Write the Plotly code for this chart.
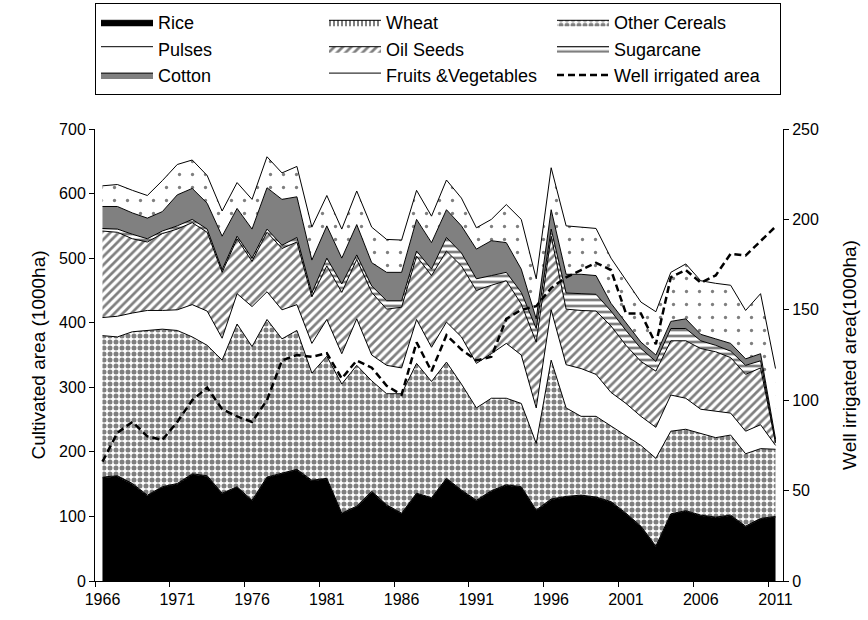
import plotly.graph_objects as go

years = list(range(1966, 2012))

# Cultivated area by crop (1000 ha)
rice = [160, 162, 150, 132, 145, 150, 165, 162, 135, 145,
        124, 160, 166, 172, 155, 158, 104, 115, 138, 117,
        104, 135, 128, 158, 140, 124, 139, 148, 145, 109,
        126, 130, 132, 129, 122, 104, 84, 53, 103, 108,
        101, 98, 101, 84, 96, 99]
wheat = [1, 1, 1, 1, 1, 1, 1, 1, 1, 1,
         1, 1, 1, 1, 1, 1, 1, 1, 1, 1,
         1, 1, 1, 1, 1, 1, 1, 1, 1, 1,
         1, 1, 1, 1, 1, 1, 1, 1, 1, 1,
         1, 1, 1, 1, 1, 1]
other_cereals = [219, 215, 235, 255, 244, 237, 212, 202, 206, 252,
                 238, 244, 208, 215, 166, 189, 200, 218, 171, 172,
                 185, 201, 180, 180, 164, 143, 143, 134, 129, 103,
                 215, 137, 122, 125, 117, 120, 125, 136, 128, 126,
                 126, 123, 124, 112, 108, 104]
pulses = [28, 32, 29, 31, 29, 32, 50, 53, 34, 47,
          62, 43, 45, 40, 46, 57, 47, 72, 40, 44,
          40, 68, 53, 62, 73, 69, 69, 85, 75, 55,
          78, 67, 74, 65, 52, 50, 45, 48, 56, 48,
          38, 41, 34, 35, 37, 6]
oil_seeds = [134, 130, 115, 106, 119, 125, 127, 122, 102, 85,
             70, 92, 95, 97, 72, 83, 95, 92, 97, 87,
             94, 98, 111, 110, 110, 113, 106, 97, 79, 102,
             114, 86, 90, 98, 103, 90, 85, 87, 84, 89,
             94, 92, 86, 88, 88, 4]
sugarcane = [4, 5, 7, 5, 4, 5, 5, 5, 4, 4,
             5, 5, 5, 7, 6, 12, 13, 7, 10, 13,
             10, 8, 10, 21, 20, 18, 15, 13, 18, 21,
             11, 25, 26, 26, 23, 23, 20, 15, 19, 19,
             12, 10, 10, 14, 11, 2]
cotton = [34, 35, 33, 32, 30, 48, 48, 40, 52, 43,
          45, 64, 71, 63, 51, 50, 40, 47, 36, 44,
          44, 49, 41, 43, 42, 46, 54, 46, 36, 15,
          30, 29, 30, 29, 12, 12, 10, 10, 11, 15,
          10, 10, 12, 10, 11, 4]
fruits_veg = [32, 34, 35, 35, 48, 47, 44, 43, 39, 40,
              46, 48, 41, 47, 51, 47, 45, 52, 55, 51,
              50, 45, 41, 46, 43, 33, 33, 59, 77, 62,
              65, 75, 73, 73, 70, 65, 62, 67, 76, 85,
              83, 86, 90, 75, 93, 109]

# Well irrigated area (1000 ha), right axis
well = [66, 82, 88, 80, 78, 88, 100, 107, 95, 91,
        88, 100, 122, 125, 124, 126, 112, 122, 118, 108,
        103, 132, 116, 136, 128, 122, 124, 145, 150, 152,
        162, 168, 172, 176, 172, 148, 148, 131, 168, 172,
        165, 169, 181, 180, 188, 196]

year_labels = [1966, 1971, 1976, 1981, 1986, 1991, 1996, 2001, 2006, 2011]
year_bounds = [1965.5, 1970.5, 1975.5, 1980.5, 1985.5, 1990.5,
               1995.5, 2000.5, 2005.5, 2010.5]

FONT = "Arial, Liberation Sans, sans-serif"

layers = [
    ("Rice", rice, dict(fillcolor="black")),
    ("Wheat", wheat, dict(fillpattern=dict(shape="|", fgcolor="black", bgcolor="white",
                                           size=4, solidity=0.5))),
    ("Other Cereals", other_cereals, dict(fillpattern=dict(shape=".", fgcolor="black",
                                                           bgcolor="white", size=6,
                                                           solidity=0.55))),
    ("Pulses", pulses, dict(fillcolor="white")),
    ("Oil Seeds", oil_seeds, dict(fillpattern=dict(shape="/", fgcolor="black",
                                                   bgcolor="white", size=6,
                                                   solidity=0.45))),
    ("Sugarcane", sugarcane, dict(fillpattern=dict(shape="-", fgcolor="black",
                                                   bgcolor="white", size=6,
                                                   solidity=0.45))),
    ("Cotton", cotton, dict(fillcolor="#808080")),
    ("Fruits &Vegetables", fruits_veg, dict(fillpattern=dict(shape=".", fgcolor="black",
                                                            bgcolor="white", size=13,
                                                            solidity=0.05))),
]

fig = go.Figure()
for name, vals, style in layers:
    fig.add_trace(go.Scatter(
        x=years, y=vals, name=name, mode="lines", stackgroup="crops",
        line=dict(color="black", width=1),
        **style,
    ))

fig.add_trace(go.Scatter(
    x=years, y=well, name="Well irrigated area", mode="lines", yaxis="y2",
    line=dict(color="black", width=2.5, dash="7px,4px"),
))

fig.update_layout(
    width=868, height=620,
    margin=dict(l=95, r=85, t=129, b=36),
    paper_bgcolor="white", plot_bgcolor="white",
    font=dict(family=FONT, size=16, color="black"),
    showlegend=True,
    legend=dict(
        orientation="h", traceorder="normal",
        x=0, xanchor="left", yref="container", y=0.995, yanchor="top",
        bordercolor="black", borderwidth=1, bgcolor="white",
        font=dict(family=FONT, size=18),
        itemwidth=52, entrywidth=161, entrywidthmode="pixels",
    ),
    xaxis=dict(
        range=[1965.5, 2011.5], showgrid=False, zeroline=False,
        showline=True, linecolor="black", linewidth=1,
        tickmode="array", tickvals=year_labels, ticks="",
        ticklabelstandoff=4, tickfont=dict(size=16),
        minor=dict(tickmode="array", tickvals=year_bounds, ticks="outside",
                   ticklen=5, tickcolor="black", showgrid=False),
    ),
    yaxis=dict(
        range=[0, 700], dtick=100, showgrid=False, zeroline=False,
        showline=True, linecolor="black", linewidth=1,
        ticks="outside", ticklen=5, tickcolor="black",
        title=dict(text="Cultivated area (1000ha)", standoff=8),
    ),
    yaxis2=dict(
        range=[0, 250], dtick=50, overlaying="y", side="right",
        showgrid=False, zeroline=False,
        showline=True, linecolor="black", linewidth=1,
        ticks="outside", ticklen=5, tickcolor="black",
        title=dict(text="Well irrigated area(1000ha)", standoff=24),
    ),
)

fig.write_html("out.html")
